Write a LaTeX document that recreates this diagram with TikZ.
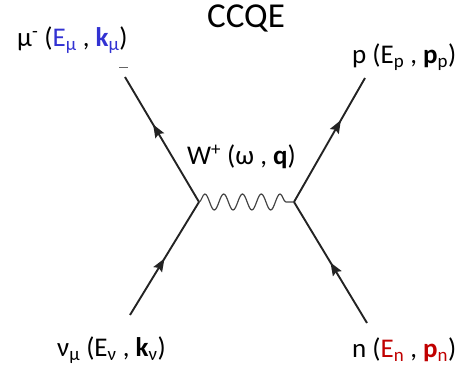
\documentclass[tikz,border=0pt]{standalone}
\usepackage{fontspec}
\setmainfont{Carlito}
\usetikzlibrary{arrows.meta,decorations.markings,decorations.pathmorphing}
\definecolor{kblue}{RGB}{50,50,210}
\definecolor{kred}{RGB}{192,0,0}
\definecolor{lin}{RGB}{35,35,35}
\tikzset{
  fermion/.style={draw=lin, line width=1.9pt,
    postaction={decorate, decoration={markings,
      mark=at position #1 with {\arrow{Stealth[length=13pt,width=10pt,inset=2pt]}}}}},
  boson/.style={draw=lin!85, line width=1.2pt, decorate,
    decoration={snake, segment length=18.8pt, amplitude=8pt}},
  lab/.style={anchor=base west, inner sep=0pt, font=\fontsize{27}{29}\selectfont},
}
\newcommand{\sbs}[1]{\textsubscript{#1}}
\begin{document}
\begin{tikzpicture}[x=1pt,y=-1pt]
\useasboundingbox (0,0) rectangle (458,371);
\coordinate (vl) at (199,202);
\coordinate (vr) at (294,202);
\coordinate (mu) at (125,77);
\coordinate (nu) at (130,315);
\coordinate (p) at (365,78);
\coordinate (n) at (367,323);
\draw[fermion=0.5] (nu) -- (vl);
\draw[fermion=0.62] (vl) -- (mu);
\draw[fermion=0.66] (vr) -- (p);
\draw[fermion=0.5] (n) -- (vr);
\draw[boson] (vl) -- (vr);
\coordinate (d1) at (119,68);
\coordinate (d2) at (128,68);
\draw[lin!70, line width=1pt] (d1) -- (d2);
\node[anchor=base, inner sep=0pt, font=\fontsize{35}{37}\selectfont] (title) at (246,28) {CCQE};
\node[lab] (lmu) at (17,47) {μ\textsuperscript{-} (\textcolor{kblue}{E\sbs{μ}} , \textcolor{kblue}{\textbf{k}\sbs{μ}})};
\node[lab] (lp) at (352,64) {p (E\sbs{p} , \textbf{p}\sbs{p})};
\node[lab] (lw) at (187,165) {W\textsuperscript{+} (ω , \textbf{q})};
\node[lab] (lnu) at (57,357) {ν\sbs{μ} (E\sbs{ν} , \textbf{k}\sbs{ν})};
\node[lab] (ln) at (352,358) {n (\textcolor{kred}{E\sbs{n}} , \textcolor{kred}{\textbf{p}\sbs{n}})};
\end{tikzpicture}
\end{document}
